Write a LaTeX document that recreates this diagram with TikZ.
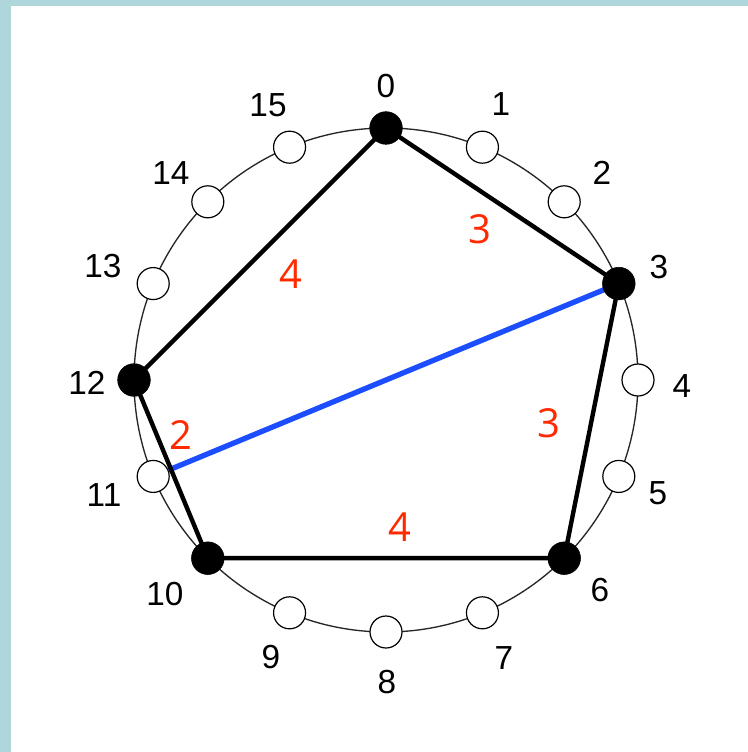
\documentclass[tikz,border=0pt]{standalone}
\usepackage{fontspec}
\setmainfont{Liberation Sans}
\newfontfamily\redfont{Open Sans}
\usetikzlibrary{backgrounds}
\definecolor{teal1}{RGB}{174,214,219}
\definecolor{redlab}{RGB}{255,42,0}
\definecolor{blueline}{RGB}{28,78,255}
\tikzset{
  filled/.style={circle,fill=black,draw=black,minimum size=24.5pt,inner sep=0pt},
  hollow/.style={circle,fill=white,draw=black,line width=0.9pt,minimum size=24pt,inner sep=0pt},
  numlab/.style={font=\fontsize{25}{25}\selectfont,inner sep=0pt},
  redlabel/.style={font=\redfont\fontsize{30}{30}\selectfont,text=redlab,inner sep=0pt},
  edge/.style={line width=3.3pt,black},
  chord/.style={line width=4pt,blueline},
  ring/.style={line width=1pt,black!85}
}
\begin{document}
\begin{tikzpicture}[x=0.75pt,y=-0.75pt]
\useasboundingbox (0,0) rectangle (748,752);
% positions on the ring
\foreach \k in {0,...,15}{
  \pgfmathsetmacro{\ang}{90-22.5*\k}
  \coordinate (p\k) at ({386+252*cos(\ang)},{380-252*sin(\ang)});
}
\foreach \k in {1,2,4,5,7,8,9,11,13,14,15}{
  \node[hollow] (n\k) at (p\k) {};
}
\foreach \k in {0,3,6,10,12}{
  \node[filled] (n\k) at (p\k) {};
}
\begin{pgfonlayer}{background}
\fill[teal1] (0,0) rectangle (748,752);
\fill[white] (11,6) rectangle (748,752);
\draw[ring] (386,380) circle[radius=252];
\draw[chord] (n3.center) -- (n11);
\draw[edge,line join=round] (n0.center) -- (n3.center) -- (n6.center) -- (n10.center) -- (n12.center) -- (n0.center);
\end{pgfonlayer}
% number labels
\node[numlab] (l0) at (386,86) {0};
\node[numlab] (l1) at (501,104) {1};
\node[numlab] (l2) at (602,173) {2};
\node[numlab] (l3) at (659,267) {3};
\node[numlab] (l4) at (682,386) {4};
\node[numlab] (l5) at (658,493) {5};
\node[numlab] (l6) at (600,590) {6};
\node[numlab] (l7) at (504,658) {7};
\node[numlab] (l8) at (387,682) {8};
\node[numlab] (l9) at (271,657) {9};
\node[numlab] (l10) at (165,594) {10};
\node[numlab] (l11) at (104,495) {11};
\node[numlab] (l12) at (87,383) {12};
\node[numlab] (l13) at (103,266) {13};
\node[numlab] (l14) at (171,173) {14};
\node[numlab] (l15) at (268,105) {15};
% red weights
\node[redlabel] (w03) at (480,229) {3};
\node[redlabel] (w012) at (291,274) {4};
\node[redlabel] (w36) at (549,423) {3};
\node[redlabel] (w311) at (181,435) {2};
\node[redlabel] (w610) at (400,527) {4};
\end{tikzpicture}
\end{document}
